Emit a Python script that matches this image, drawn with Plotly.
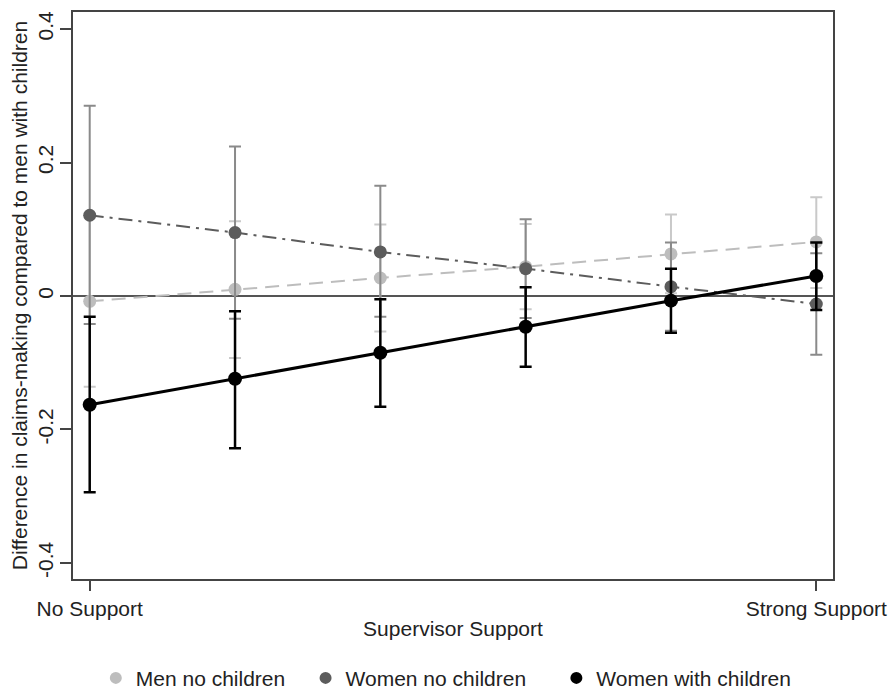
import plotly.graph_objects as go

# ---- data ----
support_levels = [0, 1, 2, 3, 4, 5]
x_tick_vals = [0, 5]
x_tick_text = ["No Support", "Strong Support"]
y_tick_vals = [-0.4, -0.2, 0, 0.2, 0.4]
y_tick_text = ["-0.4", "-0.2", "0", "0.2", "0.4"]

men_nochild = [-0.008, 0.010, 0.027, 0.044, 0.063, 0.081]
men_nochild_hi = [0.120, 0.112, 0.107, 0.108, 0.122, 0.148]
men_nochild_lo = [-0.136, -0.093, -0.053, -0.020, 0.004, 0.012]

women_nochild = [0.121, 0.095, 0.066, 0.041, 0.014, -0.012]
women_nochild_hi = [0.285, 0.224, 0.165, 0.115, 0.080, 0.064]
women_nochild_lo = [-0.042, -0.034, -0.031, -0.033, -0.052, -0.088]

women_child = [-0.163, -0.124, -0.085, -0.046, -0.007, 0.030]
women_child_hi = [-0.031, -0.023, -0.005, 0.013, 0.041, 0.080]
women_child_lo = [-0.294, -0.228, -0.166, -0.106, -0.055, -0.021]

series_names = ["Men no children", "Women no children", "Women with children"]

FONT = "Liberation Sans, Arial, sans-serif"

def err(y, hi, lo):
    return dict(type="data", symmetric=False,
                array=[h - v for h, v in zip(hi, y)],
                arrayminus=[v - l for v, l in zip(y, lo)])

fig = go.Figure()

specs = [
    (men_nochild, men_nochild_hi, men_nochild_lo, "#bdbdbd", "#c9c9c9", 2, "14px,8px", 13, 2, 6),
    (women_nochild, women_nochild_hi, women_nochild_lo, "#5c5c5c", "#8a8a8a", 2, "14px,6px,3px,6px", 13, 2, 6),
    (women_child, women_child_hi, women_child_lo, "#000000", "#000000", 3, "solid", 14, 2.5, 6),
]

for name, (y, hi, lo, mcol, ecol, lw, dash, ms, et, ew) in zip(series_names, specs):
    e = err(y, hi, lo)
    e.update(color=ecol, thickness=et, width=ew)
    fig.add_trace(go.Scatter(
        x=support_levels, y=y, mode="lines+markers", name=name,
        line=dict(color=mcol, width=lw, dash=dash),
        marker=dict(color=mcol, size=ms),
        error_y=e, showlegend=False,
    ))

# legend entries (markers only), one legend each for positioning
legend_x = [0.03, 0.306, 0.636]
for i, (name, spec) in enumerate(zip(series_names, specs)):
    lg = "legend" if i == 0 else f"legend{i+1}"
    fig.add_trace(go.Scatter(
        x=[None], y=[None], mode="markers", name=name,
        marker=dict(color=spec[3], size=12),
        showlegend=True, legend=lg,
    ))

legend_common = dict(orientation="h", yanchor="middle", y=-0.175, xanchor="left",
                     font=dict(family=FONT, size=21, color="#222222"),
                     bgcolor="rgba(0,0,0,0)", borderwidth=0)

fig.update_layout(
    width=889, height=691,
    margin=dict(l=73, r=56, t=12, b=112, autoexpand=False),
    paper_bgcolor="white", plot_bgcolor="white",
    font=dict(family=FONT, size=21, color="#222222"),
    legend=dict(x=legend_x[0], **legend_common),
    legend2=dict(x=legend_x[1], **legend_common),
    legend3=dict(x=legend_x[2], **legend_common),
    xaxis=dict(
        range=[-0.115, 5.115], tickmode="array", tickvals=x_tick_vals, ticktext=x_tick_text,
        ticks="outside", ticklen=10, tickwidth=1.5, tickcolor="#444",
        showline=True, linecolor="#444", linewidth=2, mirror=True,
        showgrid=False, zeroline=False, automargin=False,
        title=dict(text="Supervisor Support", standoff=2,
                   font=dict(family=FONT, size=21, color="#222222")),
        tickfont=dict(family=FONT, size=21, color="#222222"),
    ),
    yaxis=dict(
        range=[-0.424, 0.4255], tickmode="array", tickvals=y_tick_vals, ticktext=y_tick_text,
        tickangle=-90, ticklabelstandoff=-1,
        ticks="outside", ticklen=11, tickwidth=1.5, tickcolor="#444",
        showline=True, linecolor="#444", linewidth=2, mirror=True,
        showgrid=False, zeroline=True, zerolinecolor="#555555", zerolinewidth=2,
        automargin=False,
        title=dict(text="Difference in claims-making compared to men with children", standoff=0,
                   font=dict(family=FONT, size=21, color="#222222")),
        tickfont=dict(family=FONT, size=21, color="#222222"),
    ),
)

fig.write_html("out.html")
